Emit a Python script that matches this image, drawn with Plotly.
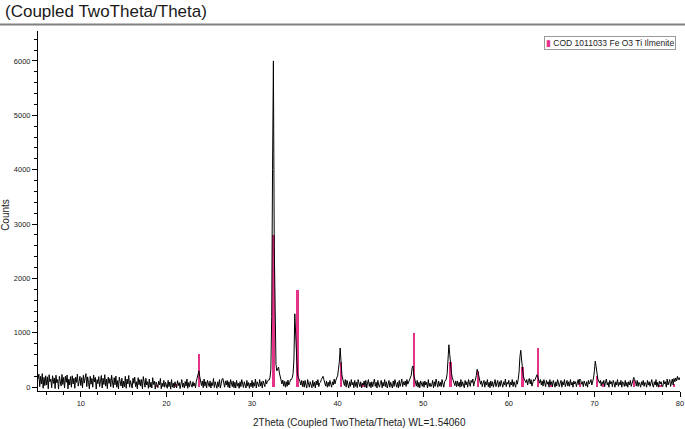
import numpy as np
import plotly.graph_objects as go

# Measured scan: 2theta from 5.0 to 80.0 deg, step 0.1 deg
two_theta_start = 5.0
two_theta_step = 0.1
counts = [
    150,240,10,200,60,250,-20,180,30,210,      # 5
    40,190,-30,230,100,150,-10,210,70,170,     # 6
    -25,220,80,140,-35,200,110,20,235,50,      # 7
    180,-15,200,90,225,-30,150,40,195,0,       # 8
    210,60,165,-20,185,90,240,20,100,200,      # 9
    30,175,-10,220,75,145,250,10,190,85,       # 10
    -30,200,55,160,0,225,95,180,-35,140,       # 11
    65,195,10,110,215,-15,165,50,230,20,       # 12
    150,-25,185,70,160,10,220,95,-10,175,      # 13
    45,205,0,120,-30,185,85,20,165,-15,        # 14
    110,10,200,-20,150,60,215,0,120,40,        # 15
    -15,165,70,185,10,100,-30,175,45,140,      # 16
    20,140,-30,195,80,0,165,40,100,-20,        # 17
    150,0,90,-15,175,50,110,-35,95,20,         # 18
    -10,110,40,160,-30,75,10,125,0,90,         # 19
    40,-20,125,10,95,-35,140,0,75,-15,         # 20
    100,10,-15,120,30,85,-25,60,140,0,         # 21
    75,-15,105,20,150,-20,85,10,115,40,        # 22
    0,100,20,75,-10,110,160,250,300,190,       # 23
    130,30,115,-10,150,20,100,-15,125,40,      # 24
    10,115,-15,85,30,160,-5,100,40,-20,        # 25
    100,10,140,-15,60,150,160,80,0,115,        # 26
    40,125,0,100,-15,140,60,10,115,-10,        # 27
    90,-15,125,20,75,-20,100,10,140,40,        # 28
    -5,100,40,-15,125,20,85,-20,75,10,         # 29
    125,-10,85,20,150,-15,100,40,10,140,       # 30
    20,100,-15,115,40,10,140,60,100,130,       # 31
    130,180,320,1300,4000,6000,2600,850,420,300,   # 32
    340,370,260,170,120,60,130,20,110,0,       # 33
    100,15,130,40,85,140,140,175,250,520,      # 34
    1350,950,480,260,180,150,110,40,125,10,    # 35
    115,0,125,40,-15,140,60,0,100,20,          # 36
    -10,125,15,90,-15,115,40,140,10,75,        # 37
    90,140,160,200,140,75,20,115,0,90,         # 38
    15,125,60,0,100,40,150,60,130,170,         # 39
    210,330,460,720,420,230,150,85,30,140,     # 40
    0,125,55,-15,100,15,140,40,90,-10,         # 41
    125,15,90,-10,140,40,10,100,-15,75,        # 42
    40,115,0,125,-15,75,140,15,90,-10,         # 43
    100,10,75,150,15,90,-15,125,40,0,          # 44
    85,125,-10,90,20,140,10,100,-15,60,        # 45
    125,0,90,40,-15,115,15,140,60,0,           # 46
    90,-10,125,15,75,150,10,100,40,115,        # 47
    15,140,55,100,130,150,215,350,390,230,     # 48
    140,75,20,125,0,90,-10,115,55,15,          # 49
    100,0,115,40,90,-15,140,15,75,10,          # 50
    40,125,-10,100,15,150,75,0,115,20,         # 51
    90,10,140,60,0,100,120,150,250,500,        # 52
    780,600,400,260,175,125,90,30,115,10,      # 53
    115,20,90,0,140,15,100,55,-10,125,         # 54
    40,100,0,140,60,15,125,85,150,20,          # 55
    100,130,215,330,280,185,120,55,115,10,     # 56
    75,125,0,100,40,140,10,90,-10,115,         # 57
    20,100,0,90,140,10,75,125,0,100,           # 58
    15,125,60,0,100,40,150,10,90,55,           # 59
    125,0,90,40,140,10,100,60,0,125,           # 60
    55,150,280,560,680,500,300,205,150,120,    # 61
    85,140,40,125,160,60,140,20,100,140,       # 62
    115,150,170,230,185,125,75,140,40,115,     # 63
    20,140,75,10,125,55,100,0,140,40,          # 64
    100,10,125,60,0,100,20,140,85,10,          # 65
    75,125,0,100,40,140,10,90,125,20,          # 66
    100,15,140,40,90,0,115,60,100,10,          # 67
    90,140,45,150,125,55,100,10,115,60,        # 68
    20,100,0,125,60,90,140,40,100,170,         # 69
    300,480,380,220,150,115,75,125,20,100,     # 70
    55,125,10,100,150,40,90,0,125,60,          # 71
    100,10,125,75,0,100,40,140,15,90,          # 72
    40,125,0,100,75,15,125,20,90,0,            # 73
    100,40,125,15,90,140,180,140,100,20,       # 74
    125,15,90,60,0,100,40,125,15,90,           # 75
    75,0,125,40,100,15,90,140,40,0,            # 76
    100,40,140,10,90,0,115,60,100,20,          # 77
    15,125,60,100,0,150,40,90,140,15,          # 78
    90,150,40,160,100,170,115,200,140,175,     # 79
    130,                                       # 80
]

# Reference pattern: COD 1011033 Fe O3 Ti Ilmenite (stick positions / heights)
ilmenite_two_theta = [18.9, 21.1, 23.8, 32.5, 35.3, 40.4, 42.9, 48.9, 53.2, 56.4,
                      61.6, 63.4, 65.0, 68.3, 70.3, 71.0, 74.6, 77.7, 79.3]
ilmenite_counts = [45, 50, 610, 2790, 1790, 470, 50, 1000, 465, 290,
                   380, 720, 40, 80, 200, 60, 140, 45, 60]
ilmenite_name = "COD 1011033 Fe O3 Ti Ilmenite"

x_ticks = [10, 20, 30, 40, 50, 60, 70, 80]
y_ticks = [0, 1000, 2000, 3000, 4000, 5000, 6000]

two_theta = np.round(two_theta_start + two_theta_step * np.arange(len(counts)), 2)

FONT = "Liberation Sans, Arial, sans-serif"
PINK = "#e6338a"

fig = go.Figure()
fig.add_trace(go.Scatter(
    x=two_theta, y=counts, mode="lines",
    line=dict(color="black", width=1),
    showlegend=False, hoverinfo="x+y",
))
fig.add_trace(go.Bar(
    x=ilmenite_two_theta, y=ilmenite_counts, width=0.28,
    marker=dict(color=PINK, line=dict(width=0)),
    showlegend=False, name=ilmenite_name,
))

fig.update_layout(
    width=685, height=429,
    margin=dict(l=38, r=5, t=31, b=38, autoexpand=False),
    paper_bgcolor="white", plot_bgcolor="white",
    font=dict(family=FONT, color="#222", size=8),
    showlegend=False,
    bargap=0,
)

fig.update_xaxes(
    range=[5, 80], tickvals=x_ticks, ticktext=[str(v) for v in x_ticks],
    showline=True, linecolor="black", linewidth=1,
    ticks="outside", ticklen=5, tickcolor="black", tickwidth=1,
    tickfont=dict(size=7.5, color="#222"),
    minor=dict(dtick=2, tick0=0, ticks="outside", ticklen=3, tickcolor="black"),
    showgrid=False, zeroline=False, automargin=False,
)
fig.update_yaxes(
    range=[-70, 6550], tickvals=y_ticks, ticktext=[str(v) for v in y_ticks],
    showline=True, linecolor="black", linewidth=1,
    ticks="outside", ticklen=5, tickcolor="black", tickwidth=1,
    tickfont=dict(size=7.5, color="#222"),
    minor=dict(dtick=200, tick0=0, ticks="outside", ticklen=3, tickcolor="black"),
    showgrid=False, zeroline=False, automargin=False,
)

# chart title (top-left) and separator line under it
fig.add_annotation(text="(Coupled TwoTheta/Theta)", xref="paper", yref="paper",
                   x=-0.054, y=1.055, xanchor="left", yanchor="middle",
                   showarrow=False,
                   font=dict(family=FONT, size=17, color="#1a1a1a"))
fig.add_shape(type="line", xref="paper", yref="paper",
              x0=-0.07, x1=1.02, y0=1.018, y1=1.018,
              line=dict(color="#808080", width=2))

# axis titles
fig.add_annotation(text="Counts", xref="paper", yref="paper",
                   x=-0.051, y=0.49, textangle=-90, showarrow=False,
                   xanchor="center", yanchor="middle",
                   font=dict(family=FONT, size=10, color="#1a1a1a"))
fig.add_annotation(text="2Theta (Coupled TwoTheta/Theta) WL=1.54060",
                   xref="paper", yref="paper", x=0.5, y=-0.087,
                   showarrow=False, xanchor="center", yanchor="middle",
                   font=dict(family=FONT, size=10, color="#1a1a1a"))

# legend box
fig.add_annotation(
    text=f"<span style='color:{PINK}'>▮</span> {ilmenite_name}",
    xref="paper", yref="paper", x=0.9938, y=0.985,
    xanchor="right", yanchor="top", showarrow=False, align="left",
    bgcolor="white", bordercolor="#9a9a9a", borderwidth=1, borderpad=1,
    font=dict(family=FONT, size=8.5, color="#222"),
)

fig.write_html("out.html", config={"displayModeBar": False},
               post_script="document.body.style.margin='0';document.body.style.overflow='hidden';")
